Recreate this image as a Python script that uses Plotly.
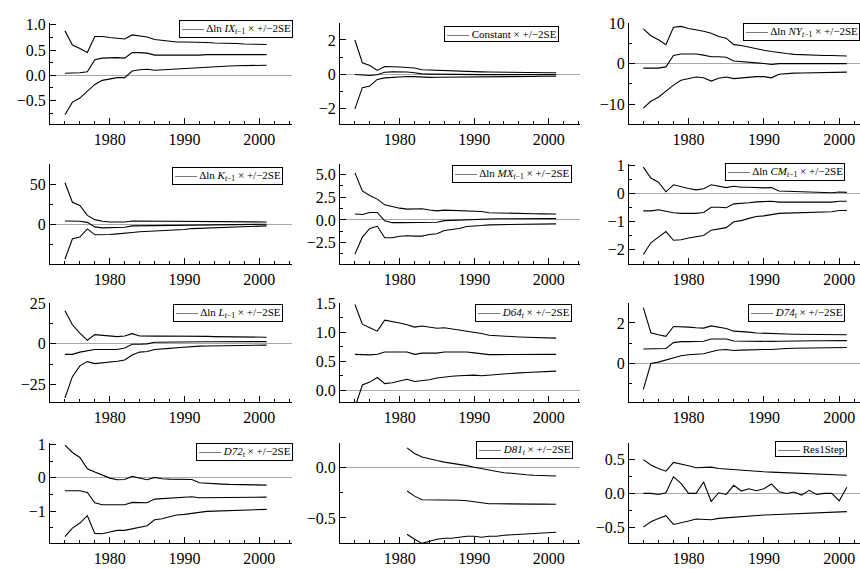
import plotly.graph_objects as go

years = [1974, 1975, 1976, 1977, 1978, 1979, 1980, 1981, 1982, 1983, 1984, 1985, 1986, 1987,
         1988, 1989, 1990, 1991, 1992, 1993, 1994, 1995, 1996, 1997, 1998, 1999, 2000, 2001]
years_d81 = [1981, 1982, 1983, 1984, 1985, 1986, 1987, 1988, 1989, 1990, 1991,
             1992, 1993, 1994, 1995, 1996, 1997, 1998, 1999, 2000, 2001]

# 1. dln IX(t-1)
ix_up = [0.88, 0.60, 0.53, 0.45, 0.77, 0.77, 0.75, 0.73, 0.72, 0.80, 0.78, 0.76, 0.71, 0.69,
         0.68, 0.66, 0.66, 0.66, 0.65, 0.65, 0.64, 0.64, 0.63, 0.63, 0.62, 0.62, 0.61, 0.61]
ix_mid = [0.04, 0.04, 0.05, 0.07, 0.31, 0.34, 0.35, 0.35, 0.34, 0.45, 0.45, 0.44, 0.40, 0.40,
          0.39, 0.39, 0.39, 0.40, 0.40, 0.41, 0.41, 0.41, 0.41, 0.41, 0.41, 0.41, 0.41, 0.41]
ix_lo = [-0.78, -0.53, -0.45, -0.32, -0.18, -0.10, -0.065, -0.045, -0.045, 0.085, 0.11, 0.12, 0.10, 0.11,
         0.12, 0.12, 0.13, 0.14, 0.155, 0.17, 0.175, 0.18, 0.185, 0.19, 0.19, 0.195, 0.20, 0.20]

# 2. Constant
c_up = [2.0, 0.67, 0.52, 0.23, 0.46, 0.46, 0.43, 0.40, 0.37, 0.27, 0.25, 0.23, 0.22, 0.21,
        0.20, 0.18, 0.16, 0.15, 0.14, 0.13, 0.12, 0.12, 0.11, 0.11, 0.10, 0.10, 0.10, 0.10]
c_mid = [0.0, -0.04, -0.06, -0.02, 0.13, 0.15, 0.15, 0.14, 0.10, 0.03, 0.02, 0.01, 0.01, 0.0,
         0.0, 0.0, 0.0, -0.01, -0.01, -0.01, -0.01, -0.01, -0.01, -0.01, -0.01, -0.01, -0.01, -0.01]
c_lo = [-2.0, -0.77, -0.67, -0.29, -0.20, -0.16, -0.14, -0.12, -0.13, -0.17, -0.17, -0.16, -0.16, -0.15,
        -0.15, -0.14, -0.14, -0.13, -0.13, -0.13, -0.12, -0.12, -0.12, -0.12, -0.12, -0.11, -0.11, -0.11]

# 3. dln NY(t-1)
ny_up = [8.6, 6.9, 5.9, 4.7, 9.0, 9.2, 8.7, 8.4, 8.0, 7.5, 6.7, 6.3, 4.7, 4.5,
         4.1, 3.6, 3.3, 3.0, 2.7, 2.5, 2.3, 2.2, 2.1, 2.1, 2.0, 2.0, 1.9, 1.9]
ny_mid = [-1.1, -1.1, -1.1, -0.8, 2.0, 2.4, 2.4, 2.4, 2.1, 1.7, 1.7, 1.6, 0.65, 0.55,
          0.4, 0.2, 0.05, -0.2, 0.0, 0.0, 0.0, 0.0, 0.0, 0.0, 0.0, 0.0, 0.0, 0.0]
ny_lo = [-11.0, -9.3, -8.3, -6.7, -5.3, -4.1, -3.7, -3.3, -3.5, -4.3, -3.6, -3.3, -3.7, -3.5,
         -3.4, -3.2, -3.2, -3.5, -2.6, -2.4, -2.35, -2.3, -2.25, -2.2, -2.2, -2.15, -2.1, -2.1]

# 4. dln K(t-1)
k_up = [51.6, 27.6, 23.6, 11.4, 6.1, 4.1, 3.3, 2.8, 3.2, 4.5, 4.4, 4.3, 4.3, 4.3,
        4.3, 4.2, 4.2, 4.2, 4.1, 4.0, 3.9, 3.8, 3.7, 3.6, 3.5, 3.4, 3.3, 3.3]
k_mid = [4.5, 4.5, 4.1, 2.8, -2.8, -4.0, -4.0, -4.0, -3.3, -1.6, -1.5, -1.5, -1.4, -1.3,
         -1.2, -1.0, -0.8, -0.5, -0.3, -0.1, 0.0, 0.1, 0.2, 0.3, 0.4, 0.5, 0.5, 0.5]
k_lo = [-42.7, -17.5, -15.4, -5.3, -12.6, -12.6, -12.2, -11.4, -11.0, -9.8, -8.9, -8.5, -8.1, -7.7,
        -7.3, -6.9, -6.1, -4.9, -4.5, -4.1, -3.7, -3.3, -2.8, -2.5, -2.2, -2.0, -1.8, -1.6]

# 5. dln MX(t-1)
mx_up = [5.2, 3.2, 2.7, 2.3, 1.67, 1.45, 1.3, 1.2, 1.2, 1.23, 1.09, 1.0, 1.09, 1.05,
         0.98, 0.94, 0.9, 0.94, 0.8, 0.77, 0.75, 0.73, 0.71, 0.70, 0.68, 0.67, 0.66, 0.65]
mx_mid = [0.65, 0.6, 0.83, 0.83, -0.1, -0.3, -0.3, -0.3, -0.3, -0.28, -0.27, -0.25, -0.07, -0.04,
          0.0, 0.07, 0.1, 0.11, 0.12, 0.13, 0.13, 0.14, 0.14, 0.14, 0.15, 0.15, 0.15, 0.15]
mx_lo = [-3.77, -1.9, -0.94, -0.7, -1.96, -1.96, -1.8, -1.74, -1.78, -1.78, -1.6, -1.52, -1.16, -1.09,
         -0.94, -0.72, -0.69, -0.62, -0.54, -0.52, -0.50, -0.49, -0.47, -0.46, -0.45, -0.44, -0.43, -0.43]

# 6. dln CM(t-1)
cm_up = [0.95, 0.56, 0.41, 0.07, 0.32, 0.25, 0.19, 0.14, 0.18, 0.32, 0.28, 0.22, 0.27, 0.23,
         0.23, 0.21, 0.21, 0.22, 0.10, 0.09, 0.08, 0.07, 0.06, 0.05, 0.045, 0.035, 0.06, 0.05]
cm_mid = [-0.61, -0.61, -0.57, -0.63, -0.68, -0.70, -0.70, -0.70, -0.67, -0.48, -0.48, -0.50, -0.36, -0.35,
          -0.32, -0.29, -0.28, -0.27, -0.30, -0.30, -0.30, -0.30, -0.30, -0.30, -0.30, -0.30, -0.27, -0.27]
cm_lo = [-2.17, -1.75, -1.55, -1.35, -1.66, -1.64, -1.58, -1.54, -1.49, -1.30, -1.25, -1.21, -1.00, -0.96,
         -0.88, -0.81, -0.79, -0.75, -0.70, -0.69, -0.68, -0.67, -0.66, -0.65, -0.65, -0.64, -0.60, -0.60]

# 7. dln L(t-1)
l_up = [20.5, 11.8, 6.7, 2.2, 5.7, 5.3, 5.0, 4.5, 4.9, 6.3, 4.9, 4.7, 4.8, 4.9,
        4.9, 4.9, 4.9, 5.0, 4.8, 4.6, 4.5, 4.4, 4.3, 4.2, 4.2, 4.1, 4.1, 4.1]
l_mid = [-6.5, -6.5, -5.1, -4.5, -3.5, -3.5, -3.5, -3.5, -2.6, -0.2, -0.2, 0.0, 1.0, 1.1,
         1.1, 1.2, 1.2, 1.2, 1.2, 1.3, 1.3, 1.3, 1.3, 1.3, 1.4, 1.4, 1.4, 1.4]
l_lo = [-33.5, -20.3, -13.6, -11.0, -12.2, -11.8, -11.2, -10.8, -10.0, -6.9, -5.1, -4.7, -3.5, -3.3,
        -2.8, -2.4, -2.0, -1.6, -1.4, -1.3, -1.2, -1.1, -1.0, -1.0, -0.9, -0.9, -0.8, -0.8]

# 8. D64(t)
d64_up = [1.48, 1.14, 1.08, 1.02, 1.21, 1.19, 1.16, 1.13, 1.09, 1.11, 1.09, 1.07, 1.08, 1.06,
          1.05, 1.03, 1.01, 0.98, 0.95, 0.94, 0.93, 0.925, 0.92, 0.915, 0.91, 0.90, 0.905, 0.90]
d64_mid = [0.62, 0.615, 0.61, 0.62, 0.66, 0.66, 0.66, 0.66, 0.62, 0.64, 0.64, 0.64, 0.66, 0.66,
           0.66, 0.66, 0.645, 0.63, 0.615, 0.615, 0.615, 0.61, 0.61, 0.61, 0.61, 0.615, 0.62, 0.62]
d64_lo = [-0.30, 0.09, 0.14, 0.22, 0.115, 0.13, 0.16, 0.19, 0.15, 0.16, 0.18, 0.21, 0.23, 0.24,
          0.25, 0.26, 0.26, 0.25, 0.26, 0.28, 0.285, 0.29, 0.30, 0.305, 0.31, 0.32, 0.33, 0.33]

# 9. D74(t)
d74_up = [2.76, 1.51, 1.41, 1.33, 1.82, 1.82, 1.79, 1.76, 1.74, 1.85, 1.77, 1.72, 1.59, 1.58,
          1.54, 1.50, 1.48, 1.47, 1.46, 1.45, 1.44, 1.44, 1.43, 1.43, 1.42, 1.42, 1.41, 1.41]
d74_mid = [0.70, 0.72, 0.73, 0.73, 1.02, 1.07, 1.07, 1.08, 1.09, 1.20, 1.20, 1.20, 1.10, 1.09,
           1.08, 1.07, 1.07, 1.08, 1.09, 1.10, 1.10, 1.10, 1.11, 1.11, 1.11, 1.12, 1.12, 1.12]
d74_lo = [-1.30, -0.02, 0.05, 0.15, 0.28, 0.37, 0.42, 0.45, 0.47, 0.57, 0.65, 0.68, 0.63, 0.65,
          0.67, 0.67, 0.68, 0.68, 0.72, 0.73, 0.74, 0.75, 0.75, 0.76, 0.76, 0.77, 0.78, 0.78]

# 10. D72(t)
d72_up = [0.98, 0.76, 0.61, 0.27, 0.17, 0.07, -0.01, -0.06, -0.05, 0.04, -0.01, -0.06, 0.01, -0.03,
          -0.04, -0.05, -0.06, -0.05, -0.15, -0.17, -0.18, -0.19, -0.20, -0.20, -0.21, -0.22, -0.22, -0.22]
d72_mid = [-0.39, -0.39, -0.39, -0.44, -0.75, -0.81, -0.81, -0.81, -0.81, -0.74, -0.74, -0.75, -0.64, -0.63,
           -0.61, -0.59, -0.59, -0.57, -0.60, -0.60, -0.60, -0.60, -0.60, -0.60, -0.59, -0.59, -0.58, -0.58]
d72_lo = [-1.77, -1.51, -1.36, -1.14, -1.67, -1.68, -1.63, -1.58, -1.58, -1.53, -1.49, -1.44, -1.26, -1.23,
          -1.17, -1.12, -1.10, -1.08, -1.04, -1.01, -1.00, -0.99, -0.98, -0.97, -0.97, -0.96, -0.95, -0.95]

# 11. D81(t), from 1981
d81_up = [0.19, 0.135, 0.10, 0.08, 0.065, 0.05, 0.04, 0.03, 0.015, 0.0, -0.015,
          -0.03, -0.045, -0.055, -0.06, -0.07, -0.075, -0.08, -0.085, -0.085, -0.087]
d81_mid = [-0.235, -0.285, -0.32, -0.32, -0.32, -0.32, -0.325, -0.325, -0.33, -0.34, -0.35,
           -0.36, -0.36, -0.362, -0.362, -0.363, -0.363, -0.364, -0.364, -0.365, -0.365]
d81_lo = [-0.66, -0.71, -0.75, -0.73, -0.71, -0.70, -0.70, -0.69, -0.68, -0.68, -0.69,
          -0.68, -0.68, -0.67, -0.665, -0.66, -0.655, -0.65, -0.645, -0.64, -0.64]

# 12. Res1Step
res = [0.0, 0.0, -0.015, 0.01, 0.245, 0.15, 0.0, 0.0, 0.17, -0.12, 0.01, -0.015, 0.12, 0.035,
       0.07, 0.04, 0.07, 0.14, 0.025, 0.0, 0.02, -0.025, 0.045, -0.015, 0.0, 0.0, -0.11, 0.09]
res_up = [0.50, 0.42, 0.37, 0.33, 0.46, 0.44, 0.41, 0.38, 0.38, 0.39, 0.37, 0.36, 0.35, 0.34,
          0.335, 0.33, 0.32, 0.315, 0.31, 0.30, 0.295, 0.29, 0.285, 0.28, 0.275, 0.27, 0.27, 0.27]
res_lo = [-0.50, -0.42, -0.37, -0.33, -0.46, -0.44, -0.41, -0.38, -0.38, -0.39, -0.37, -0.36, -0.35, -0.34,
          -0.335, -0.33, -0.32, -0.315, -0.31, -0.30, -0.295, -0.29, -0.285, -0.28, -0.275, -0.27, -0.27, -0.27]

labels = [
    "Δln <i>IX</i><sub><i>t</i>−1</sub> × +/−2SE",
    "Constant × +/−2SE",
    "Δln <i>NY</i><sub><i>t</i>−1</sub> × +/−2SE",
    "Δln <i>K</i><sub><i>t</i>−1</sub> × +/−2SE",
    "Δln <i>MX</i><sub><i>t</i>−1</sub> × +/−2SE",
    "Δln <i>CM</i><sub><i>t</i>−1</sub> × +/−2SE",
    "Δln <i>L</i><sub><i>t</i>−1</sub> × +/−2SE",
    "<i>D64</i><sub><i>t</i></sub> × +/−2SE",
    "<i>D74</i><sub><i>t</i></sub> × +/−2SE",
    "<i>D72</i><sub><i>t</i></sub> × +/−2SE",
    "<i>D81</i><sub><i>t</i></sub> × +/−2SE",
    "Res1Step",
]

panels = [
    (years, [ix_up, ix_mid, ix_lo]),
    (years, [c_up, c_mid, c_lo]),
    (years, [ny_up, ny_mid, ny_lo]),
    (years, [k_up, k_mid, k_lo]),
    (years, [mx_up, mx_mid, mx_lo]),
    (years, [cm_up, cm_mid, cm_lo]),
    (years, [l_up, l_mid, l_lo]),
    (years, [d64_up, d64_mid, d64_lo]),
    (years, [d74_up, d74_mid, d74_lo]),
    (years, [d72_up, d72_mid, d72_lo]),
    (years_d81, [d81_up, d81_mid, d81_lo]),
    (years, [res_up, res, res_lo]),
]

# layout geometry (pixels)
W, H = 860, 569
col_px = [(50, 292), (340, 580), (629, 860)]
row_px = [(15, 118), (158, 260), (299, 400), (441, 543)]
xranges = [[1972, 2004.4], [1972, 2004.2], [1972.1, 2002.75]]
yaxes_spec = [
    ([-0.97, 1.04], 0.5, 0.25, ".1f"),
    ([-2.9, 3.0], 2, 1, ""),
    ([-15, 10.1], 10, 5, ""),
    ([-49, 75], 50, 25, ""),
    ([-4.9, 6.2], 2.5, 1.25, ".1f"),
    ([-2.52, 1.07], 1, 0.5, ""),
    ([-36.2, 25.4], 25, 12.5, ""),
    ([-0.21, 1.51], 0.5, 0.25, ".1f"),
    ([-1.95, 3.0], 2, 1, ""),
    ([-1.97, 1.05], 1, 0.5, ""),
    ([-0.75, 0.24], 0.5, 0.25, ".1f"),
    ([-0.74, 0.75], 0.5, 0.25, ".1f"),
]
# legend box right edge / top (pixels)
legend_pos = [(293, 12), (559, 18), (860, 15),
              (283, 161), (572, 159), (845, 157),
              (283, 300), (572, 300), (845, 300),
              (293, 441), (573, 439), (847, 439)]

font_family = "Liberation Serif"
fig = go.Figure()
annotations = []
layout_axes = {}
for i, (xs, series) in enumerate(panels):
    r, c = divmod(i, 3)
    n = i + 1
    xa = "x" if n == 1 else f"x{n}"
    ya = "y" if n == 1 else f"y{n}"
    for s in series:
        fig.add_trace(go.Scatter(x=xs, y=s, mode="lines", xaxis=xa, yaxis=ya,
                                 line=dict(color="black", width=1.1), showlegend=False,
                                 hoverinfo="skip"))
    x0, x1 = col_px[c]
    yt, yb = row_px[r]
    yr, dt, mdt, fmt = yaxes_spec[i]
    xkey = "xaxis" if n == 1 else f"xaxis{n}"
    ykey = "yaxis" if n == 1 else f"yaxis{n}"
    layout_axes[xkey] = dict(
        domain=[x0 / W, x1 / W], anchor=ya, range=xranges[c],
        showline=True, linecolor="black", linewidth=1, mirror=False,
        showgrid=False, zeroline=False,
        ticks="inside", ticklen=6, tickcolor="black", tickwidth=1,
        tick0=1980, dtick=10,
        minor=dict(ticks="inside", ticklen=3, dtick=2, tick0=1972, tickcolor="black", showgrid=False),
        tickfont=dict(family=font_family, size=16, color="black"),
    )
    layout_axes[ykey] = dict(
        domain=[1 - yb / H, 1 - yt / H], anchor=xa, range=yr,
        showline=True, linecolor="black", linewidth=1, mirror=False,
        showgrid=False, zeroline=True, zerolinecolor="#a8a8a8", zerolinewidth=1.3,
        ticks="inside", ticklen=6, tickcolor="black", tickwidth=1,
        tick0=0, dtick=dt, tickformat=fmt,
        minor=dict(ticks="inside", ticklen=3, dtick=mdt, tick0=0, tickcolor="black", showgrid=False),
        tickfont=dict(family=font_family, size=16, color="black"),
    )
    rx, ty = legend_pos[i]
    annotations.append(dict(
        xref="paper", yref="paper", x=rx / W, y=1 - ty / H,
        xanchor="right", yanchor="top", showarrow=False,
        text="—— " + labels[i],
        font=dict(family=font_family, size=11, color="black"),
        bordercolor="black", borderwidth=1, borderpad=1, bgcolor="white",
    ))

fig.update_layout(
    width=W, height=H, margin=dict(l=0, r=0, t=0, b=0),
    paper_bgcolor="white", plot_bgcolor="white",
    annotations=annotations, **layout_axes,
)
fig.write_html("out.html", config={"displayModeBar": False},
               post_script="document.body.style.margin='0px';document.body.style.padding='0px';")
